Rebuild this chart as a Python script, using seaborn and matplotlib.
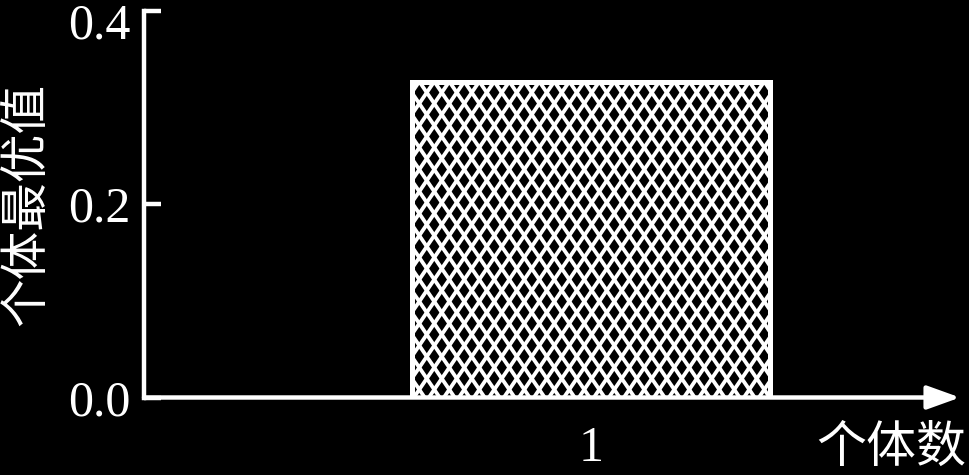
import matplotlib
matplotlib.use("Agg")
import matplotlib.pyplot as plt
import seaborn as sns
import pandas as pd
import numpy as np
from matplotlib.transforms import IdentityTransform, ScaledTranslation
from matplotlib.lines import Line2D

# ---- data ----
categories = ["1"]
values = [0.327]
y_ticks = [0.0, 0.2, 0.4]
y_tick_labels = ["0.0", "0.2", "0.4"]
x_label = "个体数"
y_label = "个体最优值"

sns.set_theme(style="white")
plt.rcParams["font.family"] = ["Liberation Serif", "Noto Sans CJK SC", "DejaVu Sans"]

W, H, DPI = 969, 475, 100
fig = plt.figure(figsize=(W / DPI, H / DPI), dpi=DPI, facecolor="black")
L, B, R, T = 144, 77.5, 960, 464
ax = fig.add_axes([L / W, B / H, (R - L) / W, (T - B) / H])
ax.set_facecolor("black")

df = pd.DataFrame({"n": categories, "v": values})
sns.barplot(data=df, x="n", y="v", ax=ax, width=0.8, color="black",
            edgecolor="white", linewidth=3.6, zorder=3, saturation=1)
for p in ax.patches:
    p.set_facecolor("none")
    p.set_edgecolor("white")
    p.set_zorder(3)

ax.set_xlim(-1.0, 0.825)
ax.set_ylim(0, 0.4)
ax.set_yticks(y_ticks)
ax.set_yticklabels(y_tick_labels)

ax.tick_params(axis="y", direction="in", length=12, width=3.2, colors="white",
               labelsize=36, pad=10, left=True)
ax.tick_params(axis="x", length=0, colors="white", labelsize=36, pad=20)

for lbl in ax.get_yticklabels():
    lbl.set_va("center_baseline")
# keep the top label inside the figure (as in the reference)
top_tick = ax.yaxis.get_major_ticks()[-1]
top_tick.label1.set_transform(top_tick.label1.get_transform()
                              + ScaledTranslation(0, -7 / 72, fig.dpi_scale_trans))

for s in ["top", "right", "bottom"]:
    ax.spines[s].set_visible(False)
ax.spines["left"].set_color("white")
ax.spines["left"].set_linewidth(3.2)

# x axis with arrow
ax.annotate("", xy=(1.0, 0.0), xytext=(0.0, 0.0), xycoords="axes fraction",
            textcoords="axes fraction",
            arrowprops=dict(arrowstyle="-|>,head_length=1.0,head_width=0.36",
                            color="white", lw=3.2, mutation_scale=20,
                            shrinkA=0, shrinkB=0),
            annotation_clip=False, zorder=5)

ax.set_ylabel(y_label, family=["Noto Sans CJK SC"], fontsize=35, color="white")
ax.yaxis.set_label_coords((27 - L) / (R - L), 0.5)
ax.yaxis.label.set_va("center")

ax.set_xlabel(x_label, family=["Noto Sans CJK SC"], fontsize=36, color="white")
ax.xaxis.set_label_coords((966 - L) / (R - L), (27 - B) / (T - B))
ax.xaxis.label.set_ha("right")
ax.xaxis.label.set_va("center")

# cross hatch (steeper than 45 degrees), clipped to the bar
fig.canvas.draw()
d = 15.0
m = 22.0 / 15.0
lw_pt = 3.8 * 72 / DPI
for p in ax.patches:
    bb = p.get_window_extent()
    h = bb.height
    x0 = bb.x0 + 7
    dx = h / m
    ks = np.arange(-int(dx / d) - 3, int(bb.width / d) + int(dx / d) + 4)
    for k in ks:
        xb = x0 + k * d
        for sgn in (1, -1):
            ln = Line2D([xb, xb + sgn * dx], [bb.y1, bb.y0],
                        transform=IdentityTransform(), color="white",
                        linewidth=lw_pt, zorder=2.9, solid_capstyle="butt")
            ax.add_artist(ln)
            ln.set_clip_path(p)

fig.savefig("out.png", dpi=DPI, facecolor="black")
